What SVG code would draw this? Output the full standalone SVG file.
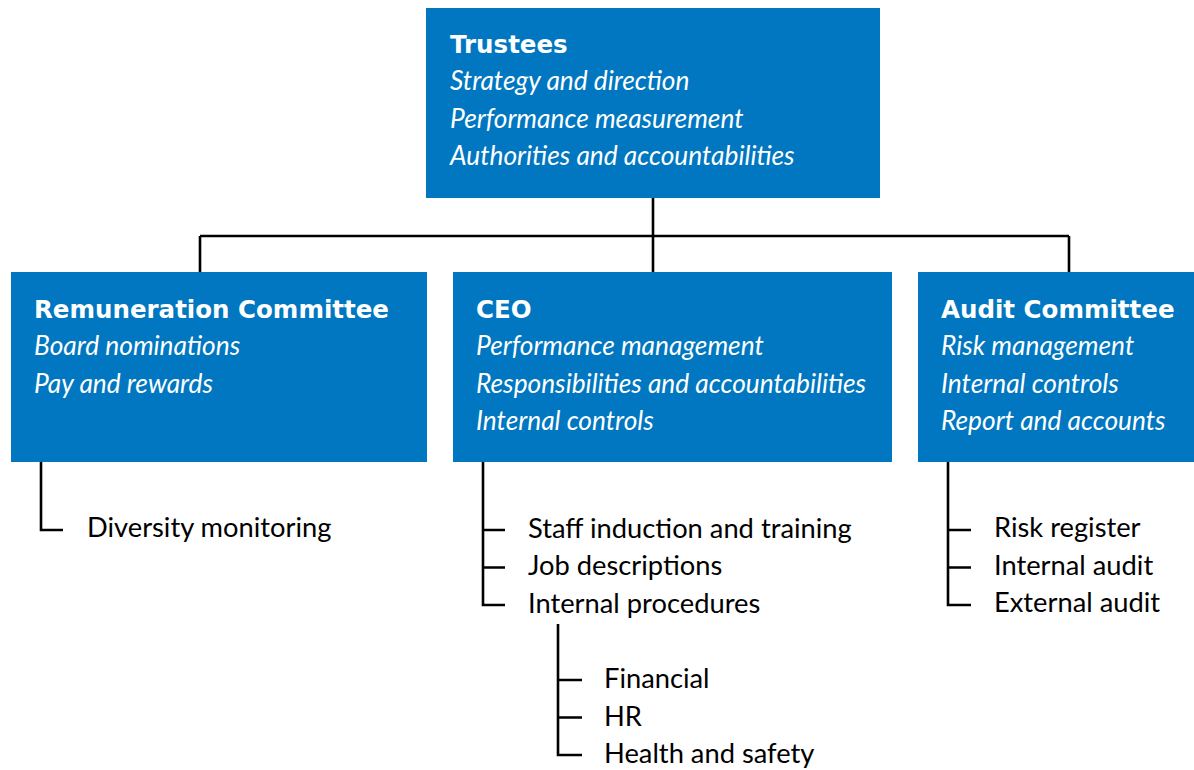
<svg xmlns="http://www.w3.org/2000/svg" width="1194" height="770" viewBox="0 0 1194 770">
  <style>
    .box { fill: #0077c0; }
    .head { font-family: "DejaVu Sans", "Liberation Sans", sans-serif; font-weight: bold; font-size: 24.5px; fill: #ffffff; }
    .duty { font-family: Lato, "Liberation Sans", sans-serif; font-style: italic; font-size: 26.3px; fill: #ffffff; }
    .item { font-family: Lato, "Liberation Sans", sans-serif; font-size: 27.3px; fill: #000000; }
    .link { fill: none; stroke: #000000; stroke-width: 2.6; }
  </style>
  <rect width="1194" height="770" fill="#ffffff"/>

  <!-- connectors -->
  <g id="connectors" class="link">
    <path d="M653 198 V272 M200 236 H1069 M200 236 V272 M1069 236 V272"/>
    <!-- Remuneration Committee list -->
    <path d="M41 462 V530 H63"/>
    <!-- CEO list -->
    <path d="M483 462 V605 H505 M483 530 H505 M483 567.5 H505"/>
    <!-- Internal procedures sub-list -->
    <path d="M558 624 V755 H582 M558 680 H582 M558 717.5 H582"/>
    <!-- Audit Committee list -->
    <path d="M948 462 V605 H971 M948 530 H971 M948 567.5 H971"/>
  </g>

  <g id="trustees">
    <rect class="box" x="426" y="8" width="454" height="190"/>
    <text class="head" x="450" y="53">Trustees</text>
    <text class="duty" x="450" y="90">Strategy and direction</text>
    <text class="duty" x="450" y="128">Performance measurement</text>
    <text class="duty" x="450" y="165">Authorities and accountabilities</text>
  </g>

  <g id="remuneration">
    <rect class="box" x="11" y="272" width="416" height="190"/>
    <text class="head" x="34" y="318">Remuneration Committee</text>
    <text class="duty" x="34" y="355">Board nominations</text>
    <text class="duty" x="34" y="393">Pay and rewards</text>
  </g>

  <g id="ceo">
    <rect class="box" x="453" y="272" width="439" height="190"/>
    <text class="head" x="476" y="318">CEO</text>
    <text class="duty" x="476" y="355">Performance management</text>
    <text class="duty" x="476" y="393">Responsibilities and accountabilities</text>
    <text class="duty" x="476" y="430">Internal controls</text>
  </g>

  <g id="audit">
    <rect class="box" x="918" y="272" width="276" height="190"/>
    <text class="head" x="941" y="318">Audit Committee</text>
    <text class="duty" x="941" y="355">Risk management</text>
    <text class="duty" x="941" y="393">Internal controls</text>
    <text class="duty" x="941" y="430">Report and accounts</text>
  </g>

  <g id="remuneration-items">
    <text class="item" x="87" y="537">Diversity monitoring</text>
  </g>

  <g id="ceo-items">
    <text class="item" x="528" y="538">Staff induction and training</text>
    <text class="item" x="528" y="575">Job descriptions</text>
    <text class="item" x="528" y="613">Internal procedures</text>
  </g>

  <g id="procedure-items">
    <text class="item" x="604" y="688">Financial</text>
    <text class="item" x="604" y="726">HR</text>
    <text class="item" x="604" y="763">Health and safety</text>
  </g>

  <g id="audit-items">
    <text class="item" x="994" y="537">Risk register</text>
    <text class="item" x="994" y="575">Internal audit</text>
    <text class="item" x="994" y="612">External audit</text>
  </g>
</svg>
